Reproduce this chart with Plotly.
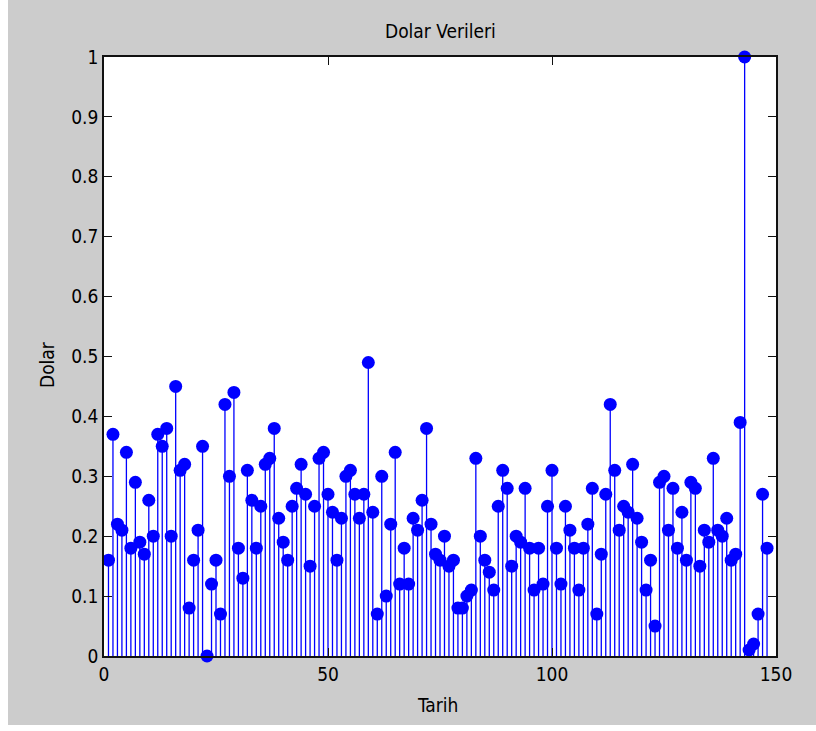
import plotly.graph_objects as go

# ---- data ----
tarih = list(range(1, 149))
dolar = [
    0.16, 0.37, 0.22, 0.21, 0.34, 0.18, 0.29, 0.19, 0.17, 0.26,
    0.20, 0.37, 0.35, 0.38, 0.20, 0.45, 0.31, 0.32, 0.08, 0.16,
    0.21, 0.35, 0.00, 0.12, 0.16, 0.07, 0.42, 0.30, 0.44, 0.18,
    0.13, 0.31, 0.26, 0.18, 0.25, 0.32, 0.33, 0.38, 0.23, 0.19,
    0.16, 0.25, 0.28, 0.32, 0.27, 0.15, 0.25, 0.33, 0.34, 0.27,
    0.24, 0.16, 0.23, 0.30, 0.31, 0.27, 0.23, 0.27, 0.49, 0.24,
    0.07, 0.30, 0.10, 0.22, 0.34, 0.12, 0.18, 0.12, 0.23, 0.21,
    0.26, 0.38, 0.22, 0.17, 0.16, 0.20, 0.15, 0.16, 0.08, 0.08,
    0.10, 0.11, 0.33, 0.20, 0.16, 0.14, 0.11, 0.25, 0.31, 0.28,
    0.15, 0.20, 0.19, 0.28, 0.18, 0.11, 0.18, 0.12, 0.25, 0.31,
    0.18, 0.12, 0.25, 0.21, 0.18, 0.11, 0.18, 0.22, 0.28, 0.07,
    0.17, 0.27, 0.42, 0.31, 0.21, 0.25, 0.24, 0.32, 0.23, 0.19,
    0.11, 0.16, 0.05, 0.29, 0.30, 0.21, 0.28, 0.18, 0.24, 0.16,
    0.29, 0.28, 0.15, 0.21, 0.19, 0.33, 0.21, 0.20, 0.23, 0.16,
    0.17, 0.39, 1.00, 0.01, 0.02, 0.07, 0.27, 0.18,
]
x_tick_vals = [0, 50, 100, 150]
y_tick_vals = [0, 0.1, 0.2, 0.3, 0.4, 0.5, 0.6, 0.7, 0.8, 0.9, 1]
y_tick_text = ["0", "0.1", "0.2", "0.3", "0.4", "0.5", "0.6", "0.7", "0.8", "0.9", "1"]
title_text = "Dolar Verileri"
x_label = "Tarih"
y_label = "Dolar"

# ---- layout constants ----
W, H = 816, 731
ML, MR, MT, MB = 104, 40, 57, 75
PW, PH = W - ML - MR, H - MT - MB
FONT = "Liberation Sans Narrow, DejaVu Sans Condensed, Liberation Sans, Arial, sans-serif"
BLUE = "#0000ff"
FS = 19

def px_x(px):
    return (px - ML) / PW

def px_y(py):
    return (H - MB - py) / PH

stem_x, stem_y = [], []
for t, v in zip(tarih, dolar):
    stem_x += [t, t, None]
    stem_y += [0, v, None]

fig = go.Figure()
fig.add_trace(go.Scatter(x=stem_x, y=stem_y, mode="lines",
                         line=dict(color=BLUE, width=1.3), hoverinfo="skip",
                         showlegend=False))
fig.add_trace(go.Scatter(x=tarih, y=dolar, mode="markers",
                         marker=dict(color=BLUE, size=13, line=dict(width=0)),
                         cliponaxis=False, showlegend=False))

axis_common = dict(showgrid=False, zeroline=False, showline=True, linecolor="#111111",
                   linewidth=1.5, mirror="allticks", ticks="inside", ticklen=8,
                   tickcolor="#111111", tickwidth=1.2,
                   tickfont=dict(family=FONT, size=FS, color="black"))

fig.update_layout(
    width=W, height=H,
    margin=dict(l=ML, r=MR, t=MT, b=MB),
    paper_bgcolor="#cccccc", plot_bgcolor="white",
    xaxis=dict(range=[0, 150], tickvals=x_tick_vals, **axis_common),
    yaxis=dict(range=[0, 1], tickvals=y_tick_vals, ticktext=y_tick_text, **axis_common),
    annotations=[
        dict(text=title_text, xref="paper", yref="paper", x=0.5, y=px_y(31),
             showarrow=False, xanchor="center", yanchor="middle",
             font=dict(family=FONT, size=FS, color="black")),
        dict(text=x_label, xref="paper", yref="paper", x=px_x(437), y=px_y(705),
             showarrow=False, xanchor="center", yanchor="middle",
             font=dict(family=FONT, size=FS, color="black")),
        dict(text=y_label, xref="paper", yref="paper", x=px_x(47), y=px_y(365),
             showarrow=False, xanchor="center", yanchor="middle", textangle=-90,
             font=dict(family=FONT, size=FS, color="black")),
    ],
    shapes=[
        dict(type="rect", xref="paper", yref="paper", x0=px_x(0), x1=px_x(8),
             y0=px_y(H), y1=px_y(0), fillcolor="white", line=dict(width=0), layer="above"),
        dict(type="rect", xref="paper", yref="paper", x0=px_x(0), x1=px_x(W),
             y0=px_y(H), y1=px_y(725), fillcolor="white", line=dict(width=0), layer="above"),
    ],
)

fig.write_html("out.html")
